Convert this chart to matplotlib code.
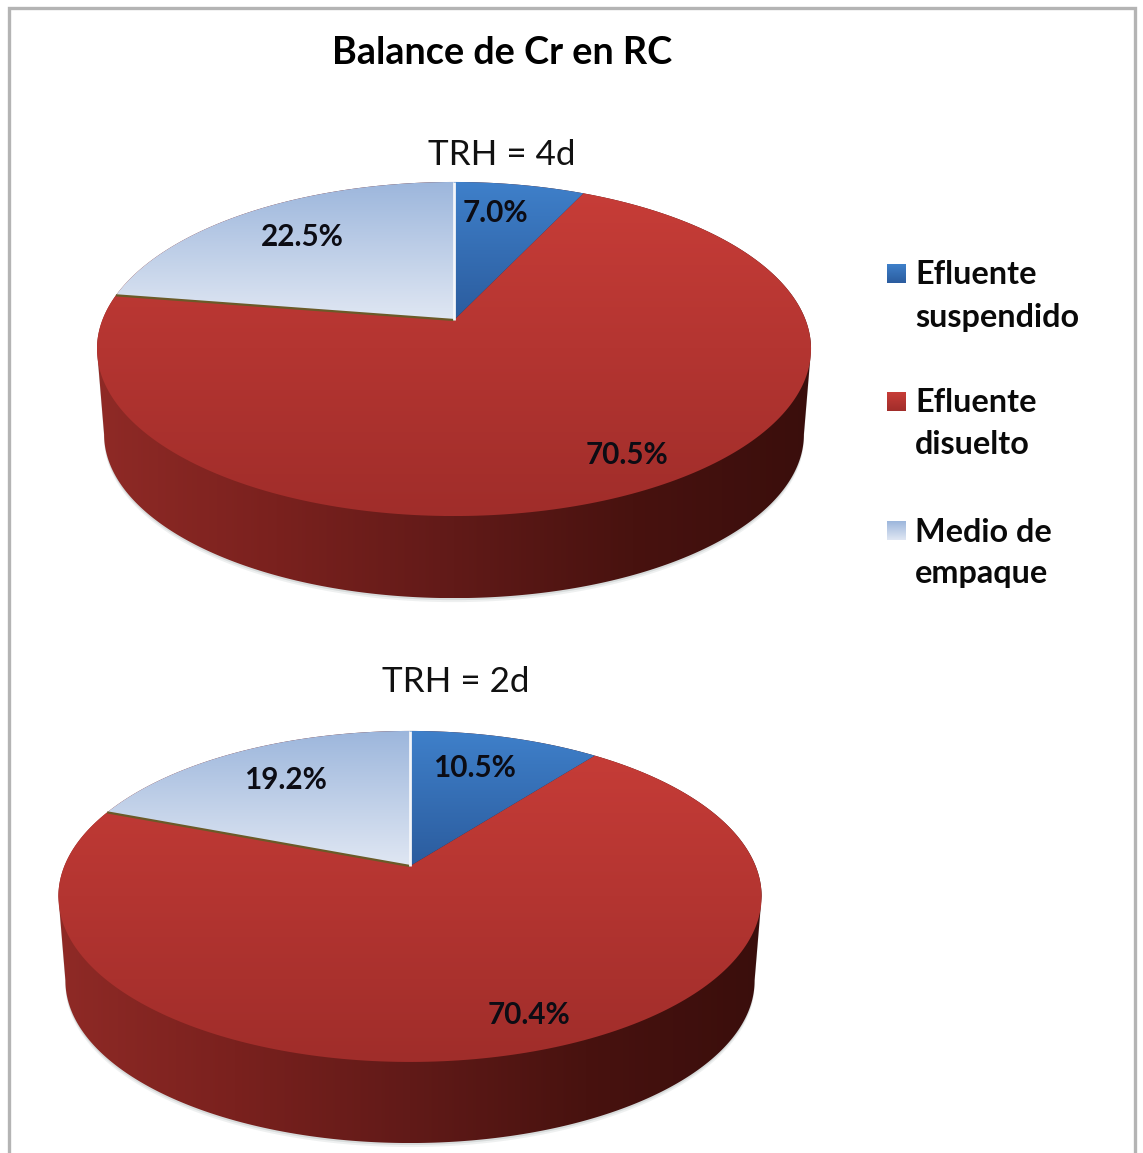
import numpy as np
import matplotlib
matplotlib.use('Agg')
import matplotlib.pyplot as plt
from matplotlib.colors import LinearSegmentedColormap
from matplotlib.patches import Polygon

plt.rcParams['font.family'] = ['Lato', 'DejaVu Sans']

# datos
categorias = ['Efluente\nsuspendido', 'Efluente\ndisuelto', 'Medio de\nempaque']
valores_4d = [7.0, 70.5, 22.5]
valores_2d = [10.5, 70.4, 19.2]
titulo = 'Balance de Cr en RC'
subtitulo_4d = 'TRH = 4d'
subtitulo_2d = 'TRH = 2d'

# colores (arriba -> abajo)
grad_azul = ['#3f80ca', '#2b5c9e']
grad_rojo = ['#c83d38', '#a02d2a']
grad_claro = ['#9cb6dc', '#e0e7f3']
grad_lado = ['#8f2a26', '#7a211e', '#611a18', '#48120f', '#3a0e0c']

W, H = 1143, 1153
fig = plt.figure(figsize=(W / 100, H / 100), dpi=100)
ax = fig.add_axes([0, 0, 1, 1])


def gradiente(colores, bbox, vertical=True, clip=None, zorder=2):
    cmap = LinearSegmentedColormap.from_list('g', colores)
    g = np.linspace(0, 1, 256)
    g = g[:, None] if vertical else g[None, :]
    im = ax.imshow(g, cmap=cmap, vmin=0, vmax=1, aspect='auto', interpolation='bilinear',
                   extent=(bbox[0], bbox[1], bbox[3], bbox[2]), zorder=zorder)
    if clip is not None:
        p = Polygon(clip, closed=True, fc='none', ec='none', zorder=zorder)
        ax.add_patch(p)
        im.set_clip_path(p)
    return im


def proyectar(x, y, cx, cy, a, b, k):
    # disco unidad -> pantalla, con perspectiva
    d = 1 + k * y
    return cx + b * x / d, cy - a * y / d


def pie3d(valores, cx, cy, a, b, k, prof, reduc):
    t = np.linspace(0, 2 * np.pi, 720, endpoint=False)
    xs, ys = proyectar(np.sin(t), np.cos(t), cx, cy, a, b, k)
    xb, yb = proyectar(np.sin(t), np.cos(t), cx, cy + prof, a * reduc, b * reduc, k)
    i_d, i_i = np.argmax(xs), np.argmin(xs)

    # lado
    lx = np.r_[xb[i_d:i_i + 1], xs[i_i:], xs[:i_d + 1]]
    ly = np.r_[yb[i_d:i_i + 1], ys[i_i:], ys[:i_d + 1]]
    # sombra suave
    for off, al in ((4, 0.10), (2, 0.16)):
        ax.add_patch(Polygon(np.c_[lx, ly + off], closed=True, fc='#607070', ec='none', alpha=al, zorder=1))
    gradiente(grad_lado, (xs.min(), xs.max(), ly.min(), ly.max()), vertical=False,
              clip=np.c_[lx, ly], zorder=2)

    # cara superior
    total = sum(valores)
    fin = np.cumsum(valores) / total * 2 * np.pi
    ini = np.r_[0, fin[:-1]]
    orden = [1, 0, 2]
    colores = [grad_azul, grad_rojo, grad_claro]
    puntos = []
    for i in orden:
        th = np.linspace(ini[i], fin[i], 240)
        px, py = proyectar(np.sin(th), np.cos(th), cx, cy, a, b, k)
        px, py = np.r_[cx, px], np.r_[cy, py]
        if i == 1:
            # el rojo usa todo el alto de la cara
            bbox = (xs.min(), xs.max(), ys.min(), ys.max())
        else:
            bbox = (px.min(), px.max(), py.min(), py.max())
        gradiente(colores[i], bbox, clip=np.c_[px, py], zorder=3)
        puntos.append((i, px, py))

    # bordes entre porciones
    for i, px, py in puntos:
        if i == 2:
            ax.plot([px[0], px[1]], [py[0], py[1]], color='#6a5a28', lw=1.6, zorder=4,
                    solid_capstyle='butt')
            ax.plot([px[0], px[-1]], [py[0], py[-1]], color='#f4f6fa', lw=2, zorder=4,
                    solid_capstyle='butt')


pie3d(valores_4d, 454, 320, 162, 351.6, 0.1737, 86, 0.98)
pie3d(valores_2d, 410, 866, 159.9, 345.6, 0.184, 85, 0.98)

# etiquetas de porcentaje
pos_4d = [(495, 213), (627, 455), (302, 237)]
pos_2d = [(474, 768), (529, 1015), (285, 780)]
for vals, pos in ((valores_4d, pos_4d), (valores_2d, pos_2d)):
    for v, (x, y) in zip(vals, pos):
        ax.text(x, y, f'{v:.1f}%', fontsize=21.3, fontweight='bold', color='#0c0c14',
                ha='center', va='center', zorder=6)

# titulos
ax.text(502, 53, titulo, fontsize=27.2, fontweight='bold', color='black', ha='center', va='center', zorder=6)
ax.text(502, 155, subtitulo_4d, fontsize=25.2, color='#111111', ha='center', va='center', zorder=6)
ax.text(456, 682, subtitulo_2d, fontsize=25.2, color='#111111', ha='center', va='center', zorder=6)

# leyenda
leg_y = [274, 402, 531]
leg_col = [grad_azul, grad_rojo, grad_claro]
for nombre, y, c in zip(categorias, leg_y, leg_col):
    gradiente(c, (887, 906, y - 9.5, y + 9.5), zorder=5)
    l1, l2 = nombre.split('\n')
    ax.text(915, y + 1, l1, fontsize=23.3, fontweight='bold', color='#0a0a0a', ha='left', va='center', zorder=6)
    ax.text(915, y + 43, l2, fontsize=23.3, fontweight='bold', color='#0a0a0a', ha='left', va='center', zorder=6)

# marco gris (la captura corta el borde inferior)
ax.plot([9, 9, 1135, 1135], [H + 5, 8, 8, H + 5], color='#b4b4b4', lw=2.4, zorder=0,
        solid_joinstyle='miter')

ax.set_xlim(0, W)
ax.set_ylim(H, 0)
ax.axis('off')
fig.savefig('out.png', dpi=100)
